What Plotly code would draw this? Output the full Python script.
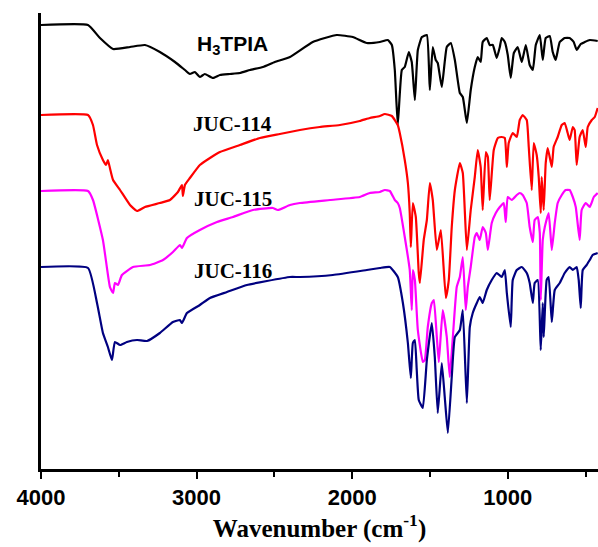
import plotly.graph_objects as go

# FTIR spectra, transmittance in arbitrary units (offset curves)
wn_h3tpia = [4000, 3698, 3621, 3537, 3428, 3332, 3236, 3139, 3075, 3043, 3011, 2979, 2947, 2895,
             2850, 2786, 2722, 2657, 2574, 2497, 2400, 2253, 2099, 1996, 1906, 1822, 1771, 1745,
             1726, 1707, 1681, 1662, 1636, 1617, 1597, 1578, 1552, 1520, 1501, 1482, 1463, 1450,
             1424, 1392, 1366, 1340, 1308, 1289, 1263, 1238, 1212, 1193, 1174, 1161, 1135, 1116,
             1096, 1071, 1051, 1039, 1019, 1000, 981, 961, 936, 910, 884, 859, 839, 820, 794, 775,
             756, 730, 711, 692, 666, 634, 602, 576, 557, 531, 505, 473, 422]
t_h3tpia = [444, 444, 431, 420, 422, 424, 417, 407, 399, 395, 397, 392, 395, 391,
            394, 395, 396, 399, 402, 407, 412, 427, 434, 432, 426, 427, 429, 424,
            399, 344, 399, 402, 417, 407, 369, 419, 432, 434, 379, 422, 409, 406,
            382, 422, 426, 409, 376, 372, 346, 379, 402, 412, 407, 427, 431, 424,
            424, 411, 422, 431, 427, 414, 391, 416, 422, 407, 424, 404, 399, 424, 434, 409,
            431, 433, 417, 409, 427, 431, 431, 427, 419, 425, 427, 429, 428]

wn_juc114 = [4000, 3698, 3666, 3640, 3602, 3582, 3570, 3557, 3537, 3492, 3428, 3383, 3332, 3236,
             3171, 3120, 3094, 3088, 3075, 3043, 2979, 2914, 2850, 2722, 2593, 2465, 2336, 2208,
             2079, 1951, 1887, 1822, 1790, 1745, 1707, 1694, 1662, 1642, 1630, 1623, 1610, 1591,
             1572, 1565, 1540, 1520, 1501, 1482, 1456, 1430, 1398, 1379, 1360, 1340, 1308, 1289,
             1263, 1238, 1212, 1193, 1174, 1161, 1141, 1128, 1116, 1090, 1064, 1039, 1019, 1006,
             994, 968, 942, 923, 904, 878, 865, 846, 833, 814, 801, 788, 782, 769, 756, 743, 717,
             705, 679, 653, 634, 615, 602, 582, 570, 557, 538, 518, 499, 486, 460, 441, 422]
t_juc114 = [354, 354, 344, 324, 309, 304, 309, 301, 289, 279, 264, 258, 262, 266,
            269, 277, 284, 273, 284, 291, 304, 311, 317, 324, 331, 335, 339, 342,
            344, 348, 351, 353, 355, 353, 344, 336, 309, 286, 256, 222, 266, 252,
            196, 186, 229, 249, 286, 269, 219, 239, 171, 189, 242, 279, 306, 296,
            219, 259, 292, 319, 302, 259, 317, 312, 269, 319, 331, 332, 331, 302,
            326, 336, 332, 349, 354, 349, 322, 279, 326, 314, 292, 256, 292, 259, 306, 321, 302,
            322, 332, 344, 346, 336, 329, 342, 339, 304, 332, 339, 322, 342, 349, 352, 361]

wn_juc115 = [4000, 3698, 3666, 3602, 3557, 3537, 3525, 3505, 3480, 3409, 3300, 3216, 3152, 3107,
             3094, 3062, 2979, 2869, 2767, 2638, 2510, 2478, 2400, 2336, 2143, 1951, 1887, 1822,
             1790, 1758, 1726, 1707, 1694, 1662, 1630, 1617, 1610, 1597, 1578, 1546, 1533, 1514,
             1488, 1475, 1456, 1443, 1418, 1392, 1373, 1353, 1328, 1308, 1289, 1270, 1257, 1238,
             1212, 1199, 1180, 1161, 1141, 1128, 1103, 1077, 1051, 1026, 1013, 1000, 974, 942, 923,
             904, 878, 859, 839, 827, 807, 794, 788, 775, 762, 737, 717, 698, 679, 653, 628, 602,
             582, 563, 538, 525, 499, 473, 447, 422]
t_juc115 = [278, 278, 269, 229, 182, 176, 186, 184, 194, 202, 204, 209, 217, 224,
            221, 231, 239, 247, 252, 259, 261, 259, 264, 266, 269, 272, 276, 277,
            279, 278, 269, 266, 261, 232, 199, 159, 199, 189, 139, 107, 109, 142,
            166, 169, 132, 107, 159, 132, 92, 132, 182, 192, 212, 159, 182, 202,
            232, 236, 229, 242, 236, 219, 246, 256, 262, 266, 247, 272, 269, 274, 276,
            274, 266, 242, 227, 249, 252, 236, 169, 229, 242, 256, 219, 246, 266, 274, 279, 279,
            272, 262, 229, 259, 266, 262, 272, 276]

wn_juc116 = [4000, 3698, 3640, 3602, 3570, 3544, 3525, 3492, 3448, 3383, 3319, 3236, 3152, 3107,
             3094, 3062, 2979, 2914, 2805, 2677, 2548, 2400, 2336, 2124, 1906, 1822, 1758, 1707,
             1674, 1642, 1623, 1610, 1597, 1585, 1572, 1546, 1520, 1488, 1469, 1450, 1424, 1405,
             1385, 1360, 1340, 1308, 1289, 1263, 1244, 1225, 1199, 1180, 1161, 1135, 1103, 1071,
             1039, 1019, 1006, 981, 968, 942, 910, 878, 859, 839, 827, 807, 788, 775, 769, 750,
             737, 717, 698, 666, 634, 602, 582, 557, 544, 531, 518, 493, 473, 454, 422]
t_juc116 = [202, 201, 166, 136, 122, 109, 127, 124, 127, 129, 128, 136, 147, 149,
            146, 156, 164, 171, 177, 184, 188, 192, 192, 194, 199, 201, 202, 192,
            166, 126, 91, 126, 129, 99, 69, 61, 109, 146, 112, 56, 106, 72,
            36, 92, 132, 139, 159, 66, 142, 156, 166, 172, 166, 179, 189, 196,
            192, 199, 176, 142, 189, 199, 202, 196, 186, 166, 186, 189, 119, 166, 132, 189,
            192, 147, 179, 186, 196, 202, 199, 202, 189, 161, 199, 204, 209, 214, 216]

series = [
    ("H3TPIA", wn_h3tpia, t_h3tpia, "#000000"),
    ("JUC-114", wn_juc114, t_juc114, "#FF0000"),
    ("JUC-115", wn_juc115, t_juc115, "#FF00FF"),
    ("JUC-116", wn_juc116, t_juc116, "#000080"),
]

label_text = ["H<sub>3</sub>TPIA", "JUC-114", "JUC-115", "JUC-116"]
label_wn = [2767, 2767, 2767, 2767]
label_t = [424, 345, 270, 198]

fig = go.Figure()
for name, x, y, c in series:
    fig.add_trace(go.Scatter(x=x, y=y, mode="lines", name=name,
                             line=dict(color=c, width=2.2, shape="spline", smoothing=0.4)))

for i, txt in enumerate(label_text):
    if i == 0:
        f = dict(family="Liberation Sans, Arial", size=21, color="black", weight="bold")
    else:
        f = dict(family="Liberation Serif, Times New Roman", size=21, color="black", weight="bold")
    fig.add_annotation(x=label_wn[i], y=label_t[i], text=txt, showarrow=False,
                       xanchor="center", yanchor="middle", font=f)

fig.update_xaxes(range=[4000, 420], showline=True, linecolor="black", linewidth=2.5,
                 ticks="outside", ticklen=7, tickwidth=2, tickcolor="black",
                 tickvals=[4000, 3000, 2000, 1000],
                 minor=dict(tickvals=[3500, 2500, 1500, 500], ticks="outside", ticklen=5,
                            tickwidth=2, tickcolor="black"),
                 showgrid=False, zeroline=False,
                 tickfont=dict(family="Liberation Sans, Arial", size=22, color="black", weight="bold"),
                 title=dict(text="Wavenumber (cm<sup>-1</sup>)", standoff=8,
                            font=dict(family="Liberation Serif, Times New Roman", size=25,
                                      color="black", weight="bold")))
fig.update_yaxes(range=[0, 456], showline=True, linecolor="black", linewidth=2.5,
                 showticklabels=False, ticks="", showgrid=False, zeroline=False)

fig.update_layout(width=598, height=547, margin=dict(l=41, r=0, t=13, b=78),
                  plot_bgcolor="white", paper_bgcolor="white", showlegend=False)

# drop the default page margin so the figure sits at the window corner
fig.write_html("out.html", config={"displayModeBar": False},
               post_script="document.body.style.margin='0';document.body.style.overflow='hidden';")
